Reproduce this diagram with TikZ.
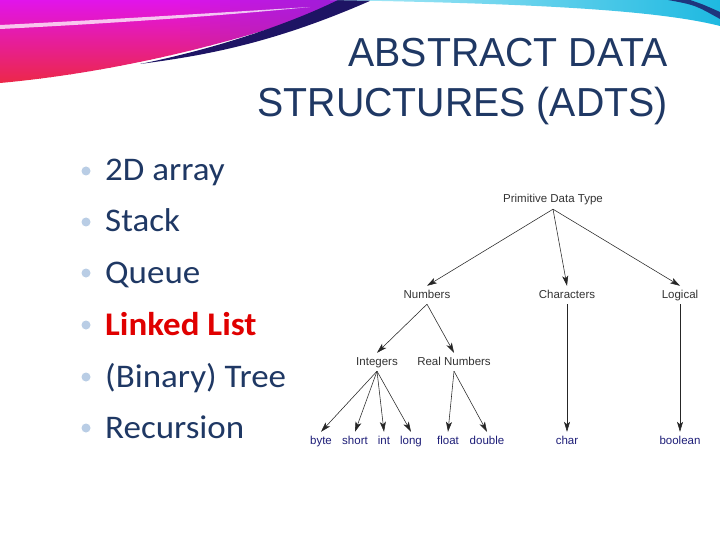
\documentclass[tikz,border=0pt]{standalone}
\usepackage{graphicx}
\usepackage{fontspec}
\setmainfont{Liberation Sans}
\newfontfamily\bodyfont{Carlito}
\usetikzlibrary{arrows.meta, positioning}

\definecolor{titleblue}{RGB}{31,56,100}
\definecolor{leafblue}{RGB}{30,30,120}
\definecolor{hotred}{RGB}{224,0,0}
\definecolor{dotblue}{RGB}{185,205,229}
\definecolor{swred}{RGB}{236,40,70}
\definecolor{swmagenta}{RGB}{225,20,235}
\definecolor{swviolet}{RGB}{140,30,210}
\definecolor{swnavy}{RGB}{30,20,100}
\definecolor{swcyan}{RGB}{30,185,225}
\definecolor{swlight}{RGB}{175,235,248}

\begin{document}
\begin{tikzpicture}[x=1pt, y=-1pt, every node/.style={inner sep=0pt}]
\useasboundingbox[fill=white] (0,0) rectangle (720,540);

\tikzstyle{title}=[anchor=base east, text=titleblue, font=\fontsize{40.5}{48}\selectfont]
\tikzstyle{item}=[anchor=base west, text=titleblue, font=\bodyfont\fontsize{33}{40}\selectfont]
\tikzstyle{hot item}=[item, text=hotred, font=\bodyfont\bfseries\fontsize{33}{40}\selectfont]
\tikzstyle{dot}=[circle, fill=dotblue, minimum size=9pt]
\tikzstyle{type node}=[font=\fontsize{11.5}{13}\selectfont, text=black!80, text height=8.5pt, text depth=2.5pt, inner xsep=1pt, inner ysep=3.5pt]
\tikzstyle{leaf node}=[type node, text=leafblue]
\tikzstyle{link}=[-{Stealth[length=10pt,width=6pt,inset=2.5pt]}, line width=0.55pt, black!85]

% swoosh (pink part, sliced so it turns violet to the right)
\begin{scope}
\clip (0,0) -- (352,0) .. controls (250,40) and (120,72) .. (0,83) -- cycle;
\foreach \i in {0,...,35} {
  \pgfmathtruncatemacro\p{max(0,min(100,100-(\i*10-170)*0.5))}
  \shade[top color=swmagenta!\p!swviolet, bottom color=swred!\p!swviolet]
    (\i*10,0) rectangle (\i*10+11,84);
}
\end{scope}
\fill[white, opacity=0.75]
  (0,25) .. controls (120,19) and (230,12) .. (310,7)
  .. controls (230,15) and (120,23) .. (0,29) -- cycle;
\fill[swnavy]
  (372,0) .. controls (270,45) and (200,56) .. (140,64)
  .. controls (210,50) and (285,26) .. (338,0) -- cycle;
% cyan part
\shade[left color=swlight, right color=swcyan]
  (330,0) -- (720,0) -- (720,26) .. controls (650,8) and (500,3) .. (330,0);
\fill[swnavy!80!swcyan]
  (668,0) .. controls (695,5) .. (720,19) -- (720,12) .. controls (702,4) .. (690,0) -- cycle;

% title
\node[title] (T1) at (668,67) {\scalebox{0.97}[1]{ABSTRACT DATA}};
\node[title] (T2) at (668,117) {\scalebox{0.97}[1]{STRUCTURES (ADTS)}};

% bullet list
\node[item] (B1) at (105,181) {\scalebox{1.06}[1]{2D array}};
\node[item] (B2) at (105,232) {\scalebox{1.06}[1]{Stack}};
\node[item] (B3) at (105,283) {\scalebox{1.06}[1]{Queue}};
\node[hot item] (B4) at (105,335) {\scalebox{1.06}[1]{Linked List}};
\node[item] (B5) at (105,387) {\scalebox{1.06}[1]{(Binary) Tree}};
\node[item] (B6) at (105,438) {\scalebox{1.06}[1]{Recursion}};
\foreach \i/\y in {1/181,2/232,3/283,4/335,5/387,6/438}
  \node[dot] (D\i) at (86,\y-10) {};

% tree: top
\node[type node] (P) at (553,200) {Primitive Data Type};

% second level
\node[type node] (N) at (427,295) {Numbers};
\node[type node] (C) at (567,295) {Characters};
\node[type node] (L) at (680,295) {Logical};

% third level
\node[type node] (I) at (377,362) {Integers};
\node[type node] (R) at (454,362) {Real Numbers};

% leaves
\node[leaf node] (byte) at (321,441) {byte};
\node[leaf node] (short) at (355,441) {short};
\node[leaf node] (int) at (384,441) {int};
\node[leaf node] (long) at (411,441) {long};
\node[leaf node] (float) at (448,441) {float};
\node[leaf node] (double) at (487,441) {double};
\node[leaf node] (char) at (567,441) {char};
\node[leaf node] (boolean) at (680,441) {boolean};

% arrows
\foreach \x in {N,C,L}
    \draw[link] (P.south) -- (\x.north);
\foreach \x in {I,R}
    \draw[link] (N.south) -- (\x.north);
\foreach \x in {byte,short,int,long}
    \draw[link] (I.south) -- (\x.north);
\foreach \x in {float,double}
    \draw[link] (R.south) -- (\x.north);
\draw[link] (C.south) -- (char.north);
\draw[link] (L.south) -- (boolean.north);

\end{tikzpicture}
\end{document}
